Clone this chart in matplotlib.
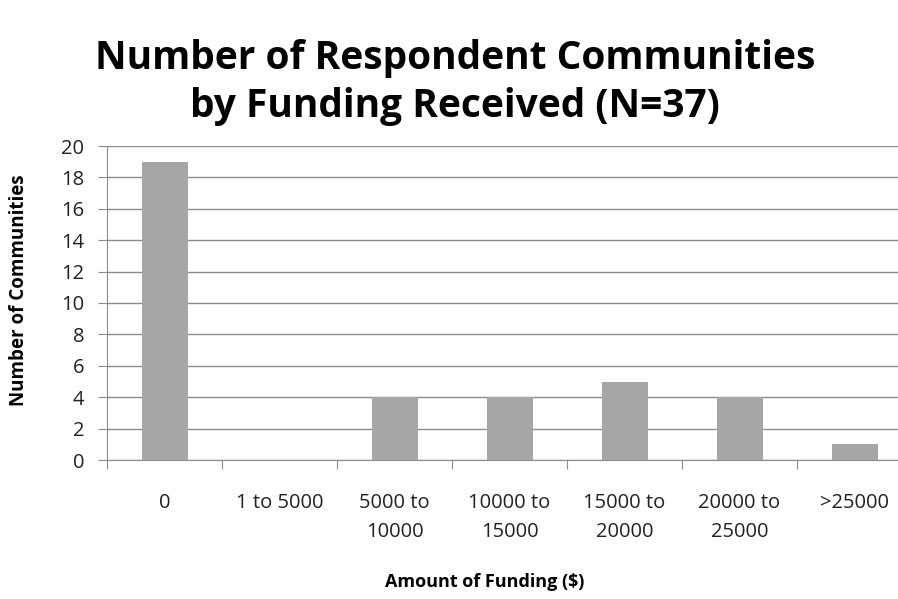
import matplotlib

matplotlib.use("AGG")
import numpy as np
import matplotlib.pyplot as plt

categories = ["0", "1 to 5000", "5000 to\n10000", "10000 to\n15000",
              "15000 to\n20000", "20000 to\n25000", ">25000"]
counts = [19, 0, 4, 4, 5, 4, 1]
yticks = list(range(0, 21, 2))

plt.rcParams["font.family"] = ["Open Sans", "DejaVu Sans"]

fig = plt.figure(figsize=(8.98, 5.99), dpi=100)
# axes run past the right edge a little, like the cropped original
ax = fig.add_axes([107 / 898, 1 - 460 / 599, (912 - 107) / 898, (460 - 146) / 599])

x = np.arange(len(categories))
ax.bar(x, counts, width=0.4, color="#a6a6a6", zorder=3)

ax.set_xlim(-0.5, len(categories) - 0.5)
ax.set_ylim(0, 20)
ax.set_yticks(yticks)
ax.yaxis.grid(True, color="#8c8c8c", linewidth=1.0, zorder=0)

# category ticks sit between the bars, labels sit centred below
ax.set_xticks(np.arange(len(categories) + 1) - 0.5)
ax.set_xticklabels([])
ax.set_xticks(x, minor=True)
ax.set_xticklabels(categories, minor=True, fontsize=14.5, color="#222222",
                   linespacing=1.6, va="top")
ax.tick_params(axis="x", which="minor", length=0, pad=24)
ax.tick_params(axis="x", which="major", length=6.5, color="#8c8c8c", direction="out")
ax.tick_params(axis="y", length=6.5, color="#8c8c8c", labelsize=14.5,
               labelcolor="#222222", pad=10)

for side in ["top", "right"]:
    ax.spines[side].set_visible(False)
for side in ["left", "bottom"]:
    ax.spines[side].set_color("#8c8c8c")

ax.set_ylabel("Number of Communities", fontsize=13.5, fontweight="bold")
ax.yaxis.set_label_coords(-(107 - 29) / (912 - 107), 0.54)
fig.text(485 / 898, 1 - 582 / 599, "Amount of Funding ($)", fontsize=13,
         fontweight="bold", ha="center", va="center")

fig.text(455 / 898, 1 - 83 / 599, "Number of Respondent Communities\nby Funding Received (N=37)",
         fontsize=28, fontweight="bold", ha="center", va="center", linespacing=1.3)

fig.savefig("out.png", dpi=100)
